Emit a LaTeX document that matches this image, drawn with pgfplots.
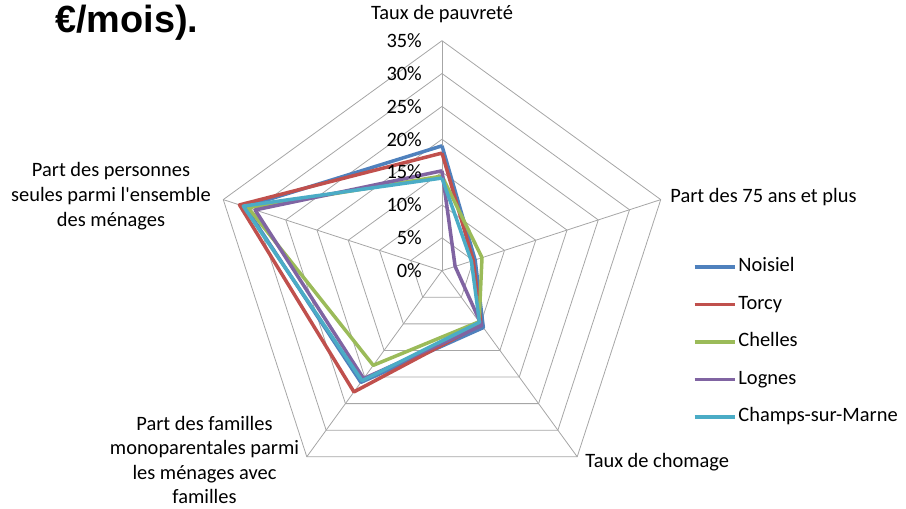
\documentclass[border=0pt]{standalone}
\usepackage{fontspec}
\setmainfont{Carlito}
\newfontfamily\arialfont{Liberation Sans}
\usepackage{pgfplots}
\pgfplotsset{compat=1.18}
\usepgfplotslibrary{polar}
\definecolor{cNoisiel}{HTML}{4F81BD}
\definecolor{cTorcy}{HTML}{C0504D}
\definecolor{cChelles}{HTML}{9BBB59}
\definecolor{cLognes}{HTML}{8064A2}
\definecolor{cChamps}{HTML}{4BACC6}
\definecolor{gridc}{HTML}{A6A6A6}
\begin{document}
\begin{tikzpicture}[x=1bp,y=1bp]
\path[use as bounding box] (0,0) rectangle (906,509);
\node[anchor=base west, inner sep=0, font=\arialfont\bfseries\fontsize{38}{40}\selectfont] at (55,476) {€/mois).};
\begin{polaraxis}[
  at={(442bp,238.3bp)}, anchor=origin,
  scale only axis, width=460bp, height=460bp,
  xmin=0, xmax=360, ymin=0, ymax=35,
  hide axis, clip=false,
  font=\fontsize{20.5}{24.6}\selectfont,
  legend cell align=left,
  legend style={at={(1.045,0.535)}, anchor=north west, draw=none, fill=none,
    inner sep=0pt, row sep=13.5bp,
    font=\fontsize{20.5}{24.6}\selectfont,
    nodes={inner sep=2bp, text height=15bp, text depth=5bp}},
  legend image code/.code={\draw[#1] (0bp,0bp) -- (40bp,0bp);},
  grid style={draw=none},
]
% pentagonal grid rings
\addplot[gridc, line width=0.8bp, forget plot] coordinates {(90,5) (18,5) (-54,5) (-126,5) (162,5) (90,5)};
\addplot[gridc, line width=0.8bp, forget plot] coordinates {(90,10) (18,10) (-54,10) (-126,10) (162,10) (90,10)};
\addplot[gridc, line width=0.8bp, forget plot] coordinates {(90,15) (18,15) (-54,15) (-126,15) (162,15) (90,15)};
\addplot[gridc, line width=0.8bp, forget plot] coordinates {(90,20) (18,20) (-54,20) (-126,20) (162,20) (90,20)};
\addplot[gridc, line width=0.8bp, forget plot] coordinates {(90,25) (18,25) (-54,25) (-126,25) (162,25) (90,25)};
\addplot[gridc, line width=0.8bp, forget plot] coordinates {(90,30) (18,30) (-54,30) (-126,30) (162,30) (90,30)};
\addplot[gridc, line width=0.8bp, forget plot] coordinates {(90,35) (18,35) (-54,35) (-126,35) (162,35) (90,35)};
% spokes
\addplot[gridc, line width=0.8bp, forget plot] coordinates {(90,0) (90,35)};
\addplot[gridc, line width=0.8bp, forget plot] coordinates {(18,0) (18,35)};
\addplot[gridc, line width=0.8bp, forget plot] coordinates {(-54,0) (-54,35)};
\addplot[gridc, line width=0.8bp, forget plot] coordinates {(-126,0) (-126,35)};
\addplot[gridc, line width=0.8bp, forget plot] coordinates {(162,0) (162,35)};
% data: pauvrete (90), 75+ (18), chomage (-54), familles mono (-126), personnes seules (162)
\addplot[cNoisiel, line width=3.5bp, line join=round] coordinates {(90,19.0) (18,5.3) (-54,10.7) (-126,21.0) (162,31.5) (90,19.0)};
\addlegendentry{Noisiel}
\addplot[cTorcy, line width=3.5bp, line join=round] coordinates {(90,17.9) (18,5.0) (-54,10.1) (-126,22.8) (162,32.4) (90,17.9)};
\addlegendentry{Torcy}
\addplot[cChelles, line width=3.5bp, line join=round] coordinates {(90,14.4) (18,6.4) (-54,9.6) (-126,17.8) (162,31.0) (90,14.4)};
\addlegendentry{Chelles}
\addplot[cLognes, line width=3.5bp, line join=round] coordinates {(90,15.2) (18,2.1) (-54,10.3) (-126,20.3) (162,29.9) (90,15.2)};
\addlegendentry{Lognes}
\addplot[cChamps, line width=3.5bp, line join=round] coordinates {(90,14.1) (18,4.7) (-54,9.7) (-126,20.7) (162,31.8) (90,14.1)};
\addlegendentry{Champs-sur-Marne}
% radial tick labels
\foreach \r in {0,5,...,35} {
  \edef\temp{\noexpand\node[anchor=east, inner sep=0, xshift=-20bp] at (axis cs:90,\r) {\r\noexpand\%};}
  \temp
}
% category labels
\node[anchor=base, inner sep=0, yshift=20.7bp] at (axis cs:90,35) {Taux de pauvreté};
\node[anchor=base west, inner sep=0, xshift=9.5bp, yshift=-2.8bp] at (axis cs:18,35) {Part des 75 ans et plus};
\node[anchor=base west, inner sep=0, xshift=8bp, yshift=-10.7bp] at (axis cs:-54,35) {Taux de chomage};
\end{polaraxis}
\node[align=center, inner sep=0, font=\fontsize{20.5}{25}\selectfont] at (111,313) {Part des personnes\\seules parmi l\textquotesingle ensemble\\des ménages};
\node[align=center, inner sep=0, font=\fontsize{20.5}{24.5}\selectfont] at (204.5,49) {Part des familles\\monoparentales parmi\\les ménages avec\\familles};
\end{tikzpicture}
\end{document}
